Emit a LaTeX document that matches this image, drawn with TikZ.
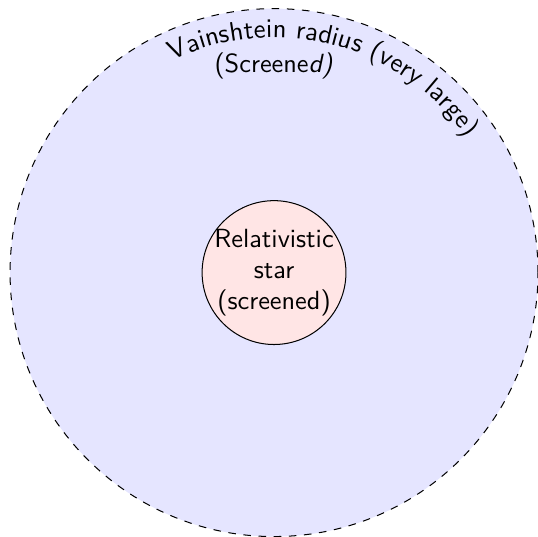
\documentclass[tikz,border=0pt]{standalone}
\usepackage{tikz}
\usetikzlibrary{positioning, decorations.text}
\renewcommand{\familydefault}{\sfdefault}

\begin{document}
\begin{tikzpicture}[
    region/.style={circle, draw, dashed, fill=blue!10, minimum size=7.34cm,
                   inner sep=0pt},
    starball/.style={circle, draw, fill=red!10, minimum size=2cm, inner sep=0pt},
    lbl/.style={align=center, font=\fontsize{10.4}{12.4}\selectfont\sffamily},
]
\useasboundingbox (-3.81,-3.67) rectangle (3.67,3.79);

% --- Vainshtein region ---
\node[region] (vain) at (0, 0) {};
\path[decorate, decoration={text along path, text align=left,
      text={|\fontsize{10.6}{12.6}\selectfont|Vainshtein radius (very large)}}]
    (115.5:3.27) arc[start angle=115.5, end angle=30, radius=3.27];
\node[lbl] (screened) at (0, 2.88) {(Screene\textsl{d)}};

% --- Star ---
\node[starball] (star) at (0, 0) {};
\node[lbl] (startext) at (star.center) {Relativistic\\star\\(screened)};
\end{tikzpicture}
\end{document}
